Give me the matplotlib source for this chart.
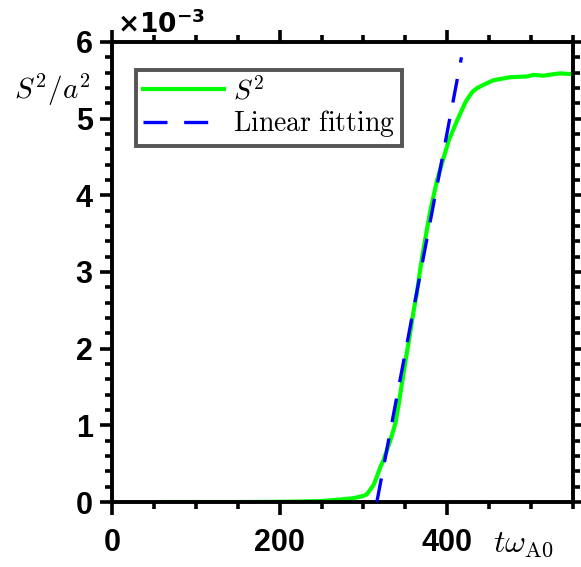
import numpy as np
import matplotlib
matplotlib.use("Agg")
import matplotlib.pyplot as plt
from matplotlib.ticker import MultipleLocator

plt.rcParams['mathtext.fontset'] = 'cm'
plt.rcParams['font.family'] = ['Liberation Sans', 'DejaVu Sans']

# S^2 curve (t, value in units of 1e-3)
t_s2 = [61, 100, 150, 200, 230, 249, 270, 288, 300, 304, 308, 312, 316, 320, 324,
        332, 338, 342, 346, 352, 356, 360, 364, 368, 372, 380, 388, 396, 402,
        412, 422, 430, 436, 443, 455, 475, 495, 503, 515, 527, 535, 549]
s2 = [0.0, 0.0, 0.0, 0.003, 0.008, 0.013, 0.03, 0.05, 0.08, 0.10, 0.16, 0.22, 0.33, 0.45, 0.55,
      0.80, 1.02, 1.27, 1.55, 1.96, 2.22, 2.50, 2.74, 3.05, 3.32, 3.81, 4.20, 4.50, 4.72,
      4.98, 5.22, 5.35, 5.40, 5.44, 5.50, 5.54, 5.55, 5.57, 5.56, 5.58, 5.59, 5.58]

# Linear fitting endpoints
t_fit = [316, 417]
fit = [0.0, 5.80]

fig = plt.figure(figsize=(5.81, 5.67), dpi=100)
ax = fig.add_axes([0.193, 0.1146, 0.793, 0.8114])

ax.plot(t_s2, np.array(s2) * 1e-3, color='#00ff00', lw=3, label=r'$S^2$', zorder=2)
ax.plot(t_fit, np.array(fit) * 1e-3, color='#0000ff', lw=2.4, ls=(0, (7.2, 5.0)),
        label=r'$\mathrm{Linear\ fitting}$', zorder=3)

ax.set_xlim(0, 550)
ax.set_ylim(0, 6e-3)
ax.xaxis.set_minor_locator(MultipleLocator(50))
ax.yaxis.set_minor_locator(MultipleLocator(0.2e-3))
ax.set_xticks([0, 200, 400])
ax.set_xticklabels(['0', '200', '400'], fontweight='bold', fontsize=22)
ax.set_yticks([i * 1e-3 for i in range(7)])
ax.set_yticklabels([str(i) for i in range(7)], fontweight='bold', fontsize=22)

ax.tick_params(which='both', direction='out', top=True, right=True, width=2.6, color='black')
ax.tick_params(which='major', length=9)
ax.tick_params(which='minor', length=5)
ax.tick_params(axis='x', which='major', pad=10)
ax.tick_params(axis='y', which='major', pad=5)
for sp in ax.spines.values():
    sp.set_linewidth(2.8)

fig.text(0.024, 0.841, r'$S^2/a^2$', fontsize=21, ha='left', va='center')
fig.text(0.848, 0.027, r'$t\omega_{\mathrm{A0}}$', fontsize=23, ha='left', va='baseline')
fig.text(0.201, 0.942, r'$\mathbf{\times 10^{-3}}$', fontsize=19, ha='left', va='baseline',
         math_fontfamily='dejavusans')

leg = ax.legend(loc='upper left', bbox_to_anchor=(0.052, 0.94), fontsize=20,
                frameon=True, fancybox=False, handlelength=2.9, borderpad=0.25,
                labelspacing=0.12, handletextpad=0.35, borderaxespad=0)
leg.get_frame().set_edgecolor('#2a2a2a')
leg.get_frame().set_linewidth(2.8)

fig.savefig('out.png', dpi=100)
